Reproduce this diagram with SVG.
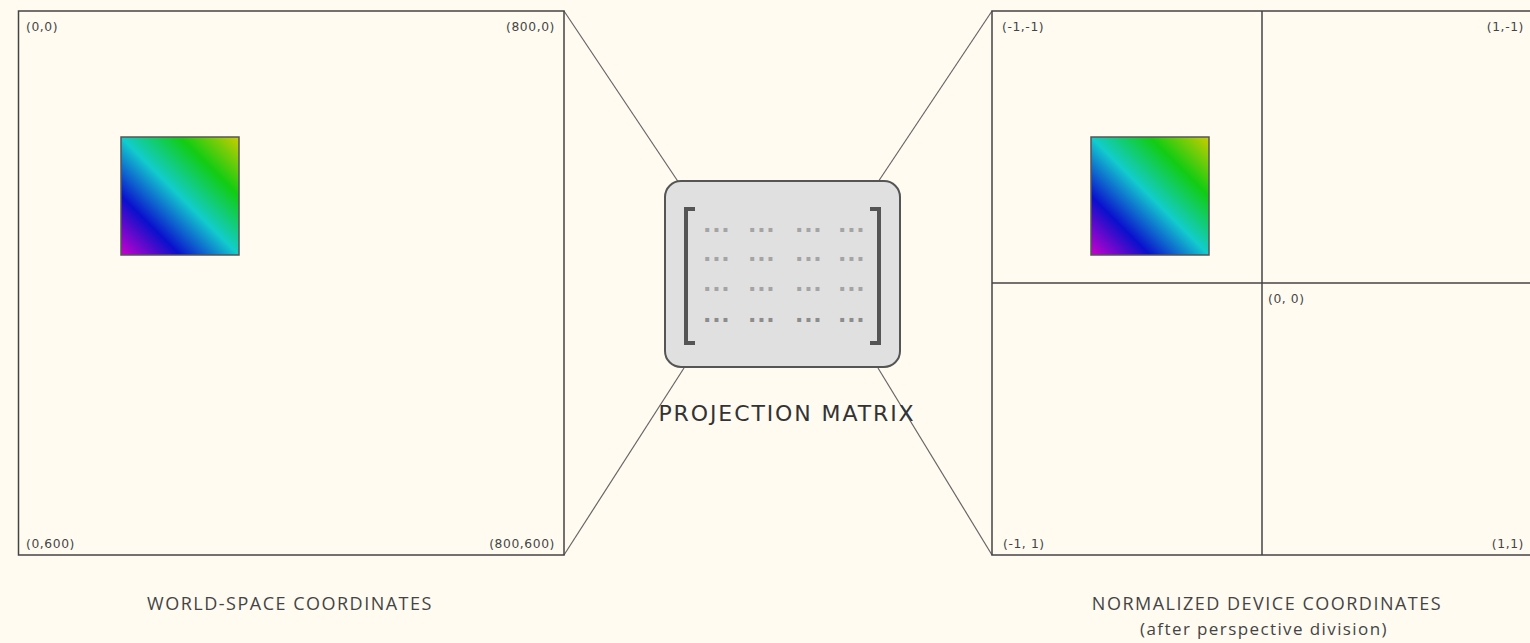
<svg xmlns="http://www.w3.org/2000/svg" width="1530" height="643" viewBox="0 0 1530 643">
<style>
.frame{fill:none;stroke:#444;stroke-width:1.5}
.conn{stroke:#666;stroke-width:1.2;fill:none}
.coord{font-family:"DejaVu Sans",sans-serif;font-size:12.3px;fill:#444;letter-spacing:0.6px}
.title{font-family:"Open Sans",sans-serif;font-size:18px;fill:#444;letter-spacing:1.5px}
.sub{font-size:17px;letter-spacing:1.4px}
.dots{font-family:"DejaVu Sans",sans-serif;font-weight:bold;font-size:22px;fill:#a4a4a4;letter-spacing:0.8px}
.dots.dark{fill:#8c8c8c}
.sq{stroke:#555;stroke-width:1.5}
.bracket{fill:none;stroke:#555;stroke-width:4}
</style>
<defs>
<linearGradient id="rainbow" x1="0" y1="1" x2="1" y2="0">
<stop offset="0" stop-color="#cc00cc"/>
<stop offset="0.25" stop-color="#0a10cc"/>
<stop offset="0.5" stop-color="#12cccc"/>
<stop offset="0.75" stop-color="#12cc12"/>
<stop offset="1" stop-color="#cccc00"/>
</linearGradient>
</defs>
<rect width="1530" height="643" fill="#fffbf1"/>
<g id="connectors">
<line class="conn" x1="564" y1="11" x2="679" y2="183"/>
<line class="conn" x1="564" y1="555" x2="684" y2="368"/>
<line class="conn" x1="878" y1="182" x2="992" y2="11"/>
<line class="conn" x1="878" y1="368" x2="992" y2="555"/>
</g>
<g id="world-space">
<rect class="frame" x="18.5" y="11" width="545.5" height="544"/>
<rect class="sq" x="121" y="137" width="118" height="118" fill="url(#rainbow)"/>
<text class="coord" x="26" y="31">(0,0)</text>
<text class="coord" x="555" y="31" text-anchor="end">(800,0)</text>
<text class="coord" x="26" y="548">(0,600)</text>
<text class="coord" x="555" y="548" text-anchor="end">(800,600)</text>
<text class="title" x="290" y="610" text-anchor="middle">WORLD-SPACE COORDINATES</text>
</g>
<g id="projection-matrix">
<rect x="665" y="181" width="235" height="186" rx="16" fill="#e0e0e0" stroke="#555" stroke-width="2"/>
<path class="bracket" d="M695,209 H686 V343 H695"/>
<path class="bracket" d="M870,209 H879 V343 H870"/>
<text class="dots" x="703" y="232">...</text><text class="dots" x="748" y="232">...</text><text class="dots" x="795" y="232">...</text><text class="dots" x="838" y="232">...</text>
<text class="dots" x="703" y="261">...</text><text class="dots" x="748" y="261">...</text><text class="dots" x="795" y="261">...</text><text class="dots" x="838" y="261">...</text>
<text class="dots" x="703" y="291">...</text><text class="dots" x="748" y="291">...</text><text class="dots" x="795" y="291">...</text><text class="dots" x="838" y="291">...</text>
<text class="dots dark" x="703" y="322">...</text><text class="dots dark" x="748" y="322">...</text><text class="dots dark" x="795" y="322">...</text><text class="dots dark" x="838" y="322">...</text>
<text x="787" y="421" text-anchor="middle" font-family="DejaVu Sans, sans-serif" font-size="22" letter-spacing="1.9" fill="#333">PROJECTION MATRIX</text>
</g>
<g id="ndc">
<rect class="frame" x="992" y="11" width="545" height="544"/>
<line class="frame" x1="1262" y1="11" x2="1262" y2="555"/>
<line class="frame" x1="992" y1="283" x2="1537" y2="283"/>
<rect class="sq" x="1091" y="137" width="118" height="118" fill="url(#rainbow)"/>
<text class="coord" x="1002" y="31">(-1,-1)</text>
<text class="coord" x="1524" y="31" text-anchor="end">(1,-1)</text>
<text class="coord" x="1268" y="303">(0, 0)</text>
<text class="coord" x="1003" y="548">(-1, 1)</text>
<text class="coord" x="1524" y="548" text-anchor="end">(1,1)</text>
<text class="title" x="1267" y="610" text-anchor="middle">NORMALIZED DEVICE COORDINATES</text>
<text class="title sub" x="1264" y="635" text-anchor="middle">(after perspective division)</text>
</g>
</svg>
